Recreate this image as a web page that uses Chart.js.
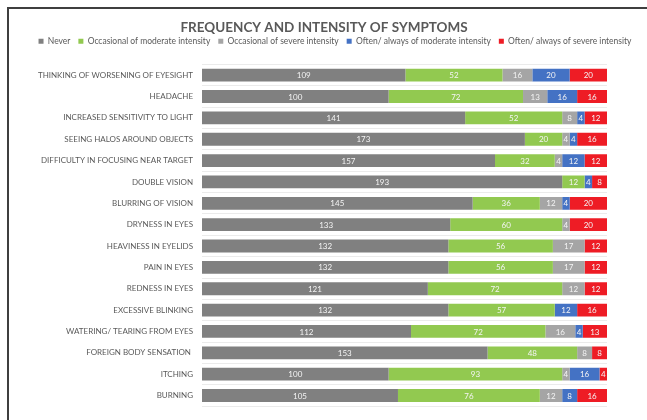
<!DOCTYPE html>
<html>
<head>
<meta charset="utf-8">
<script src="https://cdn.jsdelivr.net/npm/chart.js@4/dist/chart.umd.min.js"></script>
<style>
  html, body { margin: 0; padding: 0; background: #fff; }
  #wrap { position: relative; width: 647px; height: 420px; overflow: hidden; }
  #frame { position: absolute; left: 7px; top: 7px; width: 700px; height: 500px;
           border-left: 2px solid #3f3f3f; border-top: 2px solid #3f3f3f; pointer-events: none; }
  canvas { position: absolute; left: 0; top: 0; }
</style>
</head>
<body>
<div id="wrap">
  <canvas id="symptomChart" width="647" height="420"></canvas>
  <div id="frame"></div>
</div>
<script>
const symptoms = [
  "THINKING OF WORSENING OF EYESIGHT",
  "HEADACHE",
  "INCREASED SENSITIVITY TO LIGHT",
  "SEEING HALOS AROUND OBJECTS",
  "DIFFICULTY IN FOCUSING NEAR TARGET",
  "DOUBLE VISION",
  "BLURRING OF VISION",
  "DRYNESS IN EYES",
  "HEAVINESS IN EYELIDS",
  "PAIN IN EYES",
  "REDNESS IN EYES",
  "EXCESSIVE BLINKING",
  "WATERING/ TEARING FROM EYES",
  "FOREIGN BODY SENSATION ",
  "ITCHING",
  "BURNING"
];
const never = [109, 100, 141, 173, 157, 193, 145, 133, 132, 132, 121, 132, 112, 153, 100, 105];
const occModerate = [52, 72, 52, 20, 32, 12, 36, 60, 56, 56, 72, 57, 72, 48, 93, 76];
const occSevere = [16, 13, 8, 4, 4, 0, 12, 4, 17, 17, 12, 0, 16, 8, 4, 12];
const oftenModerate = [20, 16, 4, 4, 12, 4, 4, 0, 0, 0, 0, 12, 4, 0, 16, 8];
const oftenSevere = [20, 16, 12, 16, 12, 8, 20, 20, 12, 12, 12, 16, 13, 8, 4, 16];
const totalRespondents = 217;

const fontFamily = "Lato, 'Open Sans', sans-serif";
const textGrey = "#595959";

// values written inside each segment
const segmentLabels = {
  id: "segmentLabels",
  afterDatasetsDraw(chart) {
    const ctx = chart.ctx;
    ctx.save();
    ctx.font = "8px " + fontFamily;
    ctx.fillStyle = "#f4f4f4";
    ctx.textAlign = "center";
    ctx.textBaseline = "middle";
    chart.data.datasets.forEach((ds, i) => {
      chart.getDatasetMeta(i).data.forEach((bar, j) => {
        const v = ds.data[j];
        if (!v) return;
        const mid = (bar.x + bar.base) / 2;
        ctx.fillText(String(v), mid, bar.y + 0.5);
      });
    });
    ctx.restore();
  }
};

// extra space under the legend, and legend nudged right a bit
const legendGap = {
  id: "legendGap",
  beforeLayout(chart) {
    const legend = chart.legend;
    if (!legend || legend._gapPatched) return;
    const fit = legend.fit;
    legend.fit = function () {
      fit.call(this);
      this.height += 9;
    };
    legend._gapPatched = true;
  },
  afterLayout(chart) {
    chart.legend.left += 11;
    chart.legend.right += 11;
  }
};

const ctx = document.getElementById("symptomChart").getContext("2d");
new Chart(ctx, {
  type: "bar",
  data: {
    labels: symptoms,
    datasets: [
      { label: "Never", data: never, backgroundColor: "#808080" },
      { label: "Occasional of moderate intensity", data: occModerate, backgroundColor: "#92C950" },
      { label: "Occasional of severe intensity", data: occSevere, backgroundColor: "#A5A5A5" },
      { label: "Often/ always of moderate intensity", data: oftenModerate, backgroundColor: "#4472C4" },
      { label: "Often/ always of severe intensity", data: oftenSevere, backgroundColor: "#EE1C25" }
    ]
  },
  options: {
    indexAxis: "y",
    responsive: false,
    animation: false,
    datasets: {
      bar: { categoryPercentage: 1, barPercentage: 0.6, borderWidth: 0 }
    },
    layout: { autoPadding: false, padding: { left: 1, right: 0, top: 26, bottom: 10 } },
    plugins: {
      title: {
        display: true,
        text: "FREQUENCY AND INTENSITY OF SYMPTOMS",
        color: textGrey,
        font: { family: fontFamily, size: 13.5, weight: "bold", lineHeight: 0.22 },
        padding: { top: 0, bottom: 0 }
      },
      legend: {
        display: true,
        position: "top",
        labels: {
          color: textGrey,
          font: { family: fontFamily, size: 8.5 },
          boxWidth: 5,
          boxHeight: 5,
          padding: 8
        }
      },
      tooltip: { enabled: false }
    },
    scales: {
      x: {
        stacked: true,
        display: false,
        min: 0,
        max: totalRespondents
      },
      y: {
        stacked: true,
        border: { display: false },
        grid: { color: "#ebebeb", lineWidth: 1, drawTicks: false, offset: true },
        ticks: {
          color: textGrey,
          font: { family: fontFamily, size: 8 },
          padding: 9,
          autoSkip: false
        },
        afterFit(scale) {
          scale.width = 201;
        }
      },
      // empty strip on the right so the bars stop short of the frame
      yRight: {
        type: "category",
        position: "right",
        offset: true,
        grid: { display: false },
        border: { display: false },
        ticks: { display: false },
        afterFit(scale) {
          scale.width = 40;
        }
      }
    }
  },
  plugins: [segmentLabels, legendGap]
});
</script>
</body>
</html>
